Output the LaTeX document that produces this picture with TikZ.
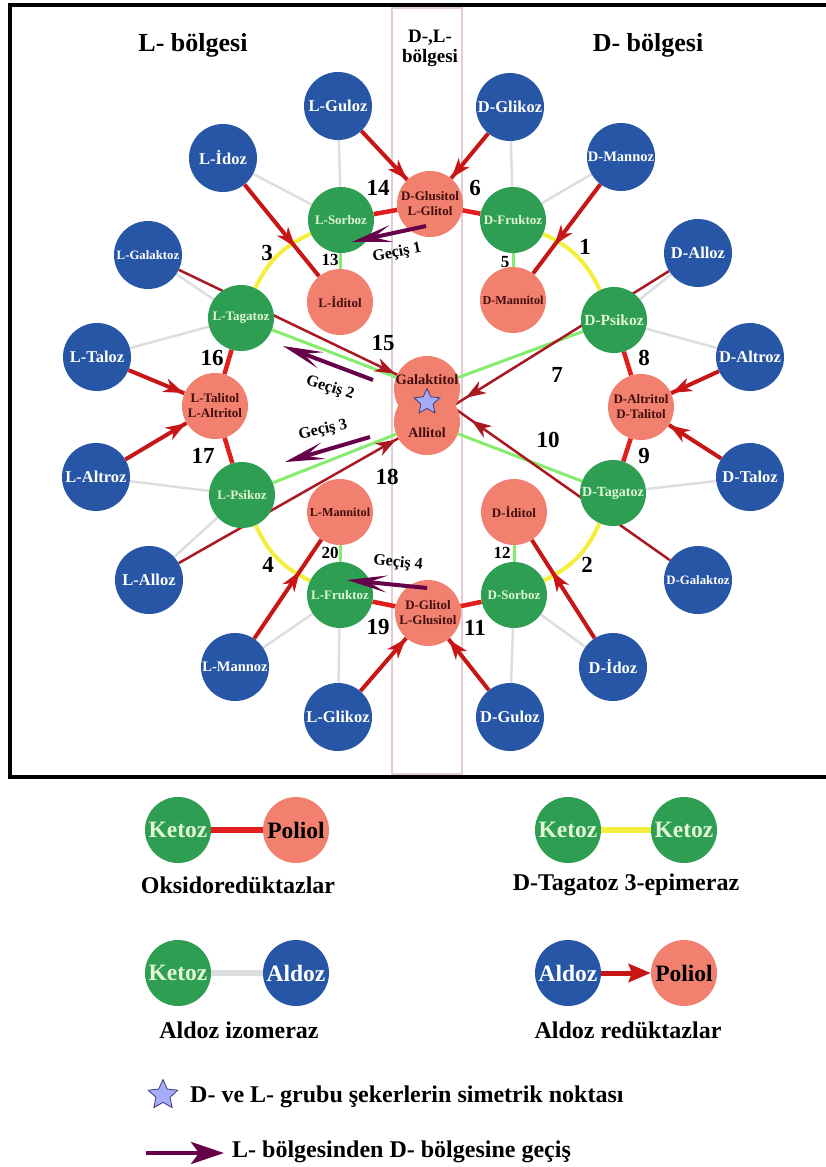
\documentclass[tikz,border=0pt]{standalone}
\usepackage{fontspec}
\setmainfont{Liberation Serif}
\usetikzlibrary{arrows.meta,shapes.geometric,decorations.markings,backgrounds}

\definecolor{aldozblue}{RGB}{40,86,166}
\definecolor{ketozgreen}{RGB}{46,158,82}
\definecolor{poliolpink}{RGB}{242,128,110}
\definecolor{ketoztext}{RGB}{224,246,212}
\definecolor{polioltext}{RGB}{66,14,14}
\definecolor{oksred}{RGB}{224,30,30}
\definecolor{redukred}{RGB}{200,22,22}
\definecolor{darkred}{RGB}{170,24,34}
\definecolor{izogray}{RGB}{222,222,222}
\definecolor{izolight}{RGB}{134,236,110}
\definecolor{epiyellow}{RGB}{245,238,60}
\definecolor{gecispurple}{RGB}{102,0,72}
\definecolor{starblue}{RGB}{165,172,250}
\definecolor{stardark}{RGB}{60,60,120}
\definecolor{regionpink}{RGB}{228,204,214}

\tikzset{
  aldoz/.style={circle, fill=aldozblue, minimum size=68pt, inner sep=0pt, text=white,
    font=\bfseries\fontsize{16.5}{18}\selectfont},
  ketoz/.style={circle, fill=ketozgreen, minimum size=66pt, inner sep=0pt, text=ketoztext,
    font=\bfseries\fontsize{13}{15}\selectfont},
  poliol/.style={circle, fill=poliolpink, minimum size=66pt, inner sep=0pt, text=polioltext,
    align=center, font=\bfseries\fontsize{13}{15}\selectfont},
  polyazi/.style={text=polioltext, inner sep=0pt, font=\bfseries\fontsize{14}{16}\selectfont},
  yildiz/.style={star, star points=5, star point ratio=2.1, fill=starblue, draw=stardark,
    line width=0.8pt, minimum size=27pt, inner sep=0pt},
  num/.style={inner sep=0pt, font=\bfseries\fontsize{23}{25}\selectfont},
  kucuknum/.style={inner sep=0pt, font=\bfseries\fontsize{17}{19}\selectfont},
  baslik/.style={inner sep=0pt, font=\bfseries\fontsize{26}{28}\selectfont},
  lejant/.style={inner sep=0pt, font=\bfseries\fontsize{24}{26}\selectfont},
  lejdaire/.style={font=\bfseries\fontsize{23.5}{25}\selectfont},
  gecisyazi/.style={inner sep=0pt, font=\bfseries\fontsize{16}{18}\selectfont},
  oksi/.style={draw=oksred, line width=4.5pt},
  izo/.style={draw=izogray, line width=2.5pt},
  yesil/.style={draw=izolight, line width=3pt},
  epim/.style={draw=epiyellow, line width=4pt},
  reduk/.style={draw, color=redukred, line width=4pt, postaction={decorate},
    decoration={markings, mark=at position #1 with {\arrow{Stealth[length=20pt,width=14pt,inset=6pt]}}}},
  reduk/.default=0.99,
  redukince/.style={reduk=#1, color=darkred, line width=2.5pt},
  redukince/.default=0.99,
  gecis/.style={draw=gecispurple, line width=4pt, -{Stealth[length=40pt,width=17pt,inset=18pt]}},
}

\begin{document}
\begin{tikzpicture}[x=1pt, y=-1pt]
\useasboundingbox (0,0) rectangle (825,1167);

% basliklar
\node[baslik] (lbolge) at (193,45) {L- bölgesi};
\node[baslik] (dbolge) at (648,45) {D- bölgesi};
\node[inner sep=0pt, align=center, font=\bfseries\fontsize{19}{20}\selectfont] (dlbolge) at (430,48) {D-,L-\\bölgesi};

% aldozlar
\node[aldoz] (lguloz) at (338,106) {L-Guloz};
\node[aldoz] (lidoz) at (223,158) {L-İdoz};
\node[aldoz, font=\bfseries\fontsize{12.8}{14}\selectfont] (lgalaktoz) at (148,255) {L-Galaktoz};
\node[aldoz] (ltaloz) at (97,357) {L-Taloz};
\node[aldoz] (laltroz) at (96,477) {L-Altroz};
\node[aldoz] (lalloz) at (149,580) {L-Alloz};
\node[aldoz, font=\bfseries\fontsize{14.5}{16}\selectfont] (lmannoz) at (235,667) {L-Mannoz};
\node[aldoz] (lglikoz) at (338,717) {L-Glikoz};
\node[aldoz] (dglikoz) at (510,107) {D-Glikoz};
\node[aldoz, font=\bfseries\fontsize{14.5}{16}\selectfont] (dmannoz) at (621,157) {D-Mannoz};
\node[aldoz] (dalloz) at (698,253) {D-Alloz};
\node[aldoz] (daltroz) at (750,357) {D-Altroz};
\node[aldoz] (dtaloz) at (750,477) {D-Taloz};
\node[aldoz, font=\bfseries\fontsize{12.8}{14}\selectfont] (dgalaktoz) at (698,580) {D-Galaktoz};
\node[aldoz] (didoz) at (613,667) {D-İdoz};
\node[aldoz] (dguloz) at (510,717) {D-Guloz};

% ketozlar
\node[ketoz] (lsorboz) at (341,220) {L-Sorboz};
\node[ketoz] (ltagatoz) at (241,318) {L-Tagatoz};
\node[ketoz] (lpsikoz) at (242,495) {L-Psikoz};
\node[ketoz] (lfruktoz) at (340,595) {L-Fruktoz};
\node[ketoz] (dfruktoz) at (513,220) {D-Fruktoz};
\node[ketoz, font=\bfseries\fontsize{15.5}{17}\selectfont] (dpsikoz) at (614,320) {D-Psikoz};
\node[ketoz, font=\bfseries\fontsize{14}{16}\selectfont] (dtagatoz) at (613,493) {D-Tagatoz};
\node[ketoz] (dsorboz) at (514,595) {D-Sorboz};

% polioller
\node[poliol] (dglusitol) at (430,204) {D-Glusitol\\L-Glitol};
\node[poliol] (liditol) at (340,302) {L-İditol};
\node[poliol, font=\bfseries\fontsize{12.2}{14}\selectfont] (dmannitol) at (513,300) {D-Mannitol};
\node[poliol] (ltalitol) at (215,406) {L-Talitol\\L-Altritol};
\node[poliol] (daltritol) at (641,407) {D-Altritol\\D-Talitol};
\node[poliol, font=\bfseries\fontsize{12.2}{14}\selectfont] (lmannitol) at (340,512) {L-Mannitol};
\node[poliol] (diditol) at (514,512) {D-İditol};
\node[poliol] (dglitol) at (428,613) {D-Glitol\\L-Glusitol};
\node[poliol] (galaktitol) at (427,389) {};
\node[poliol] (allitol) at (427,422) {};
\node[polyazi, font=\bfseries\fontsize{14.5}{16}\selectfont] (galaktitolyazi) at (427,380) {Galaktitol};
\node[polyazi] (allitolyazi) at (427,433) {Allitol};
\node[yildiz] (simetri) at (427,402) {};

\begin{scope}[on background layer]
\draw[regionpink, line width=1.5pt] (392,8) rectangle (462,774);
% aldoz izomeraz
\draw[izo] (lguloz) -- (lsorboz);
\draw[izo] (lidoz) -- (lsorboz);
\draw[izo] (lgalaktoz) -- (ltagatoz);
\draw[izo] (ltaloz) -- (ltagatoz);
\draw[izo] (laltroz) -- (lpsikoz);
\draw[izo] (lalloz) -- (lpsikoz);
\draw[izo] (lmannoz) -- (lfruktoz);
\draw[izo] (lglikoz) -- (lfruktoz);
\draw[izo] (dglikoz) -- (dfruktoz);
\draw[izo] (dmannoz) -- (dfruktoz);
\draw[izo] (dalloz) -- (dpsikoz);
\draw[izo] (daltroz) -- (dpsikoz);
\draw[izo] (dtaloz) -- (dtagatoz);
\draw[izo] (didoz) -- (dsorboz);
\draw[izo] (dguloz) -- (dsorboz);
% oksidoreduktazlar
\draw[oksi] (lsorboz) -- (dglusitol);
\draw[oksi] (dfruktoz) -- (dglusitol);
\draw[oksi] (ltagatoz) -- (ltalitol);
\draw[oksi] (lpsikoz) -- (ltalitol);
\draw[oksi] (dpsikoz) -- (daltritol);
\draw[oksi] (dtagatoz) -- (daltritol);
\draw[oksi] (lfruktoz) -- (dglitol);
\draw[oksi] (dsorboz) -- (dglitol);
\draw[yesil] (lsorboz) -- (liditol);
\draw[yesil] (dfruktoz) -- (dmannitol);
\draw[yesil] (lmannitol) -- (lfruktoz);
\draw[yesil] (diditol) -- (dsorboz);
\draw[yesil] (ltagatoz) -- (galaktitol);
\draw[yesil] (dpsikoz) -- (galaktitol);
\draw[yesil] (lpsikoz) -- (allitol);
\draw[yesil] (dtagatoz) -- (allitol);
% D-tagatoz 3-epimeraz
\draw[epim] (lsorboz) to[bend right=20] (ltagatoz);
\draw[epim] (dfruktoz) to[bend left=20] (dpsikoz);
\draw[epim] (lpsikoz) to[bend right=20] (lfruktoz);
\draw[epim] (dtagatoz) to[bend left=20] (dsorboz);
% aldoz reduktazlar
\draw[reduk] (lguloz) -- (dglusitol);
\draw[reduk] (dglikoz) -- (dglusitol);
\draw[reduk=0.68] (lidoz) -- (liditol);
\draw[reduk=0.68] (dmannoz) -- (dmannitol);
\draw[reduk] (ltaloz) -- (ltalitol);
\draw[reduk] (laltroz) -- (ltalitol);
\draw[reduk] (daltroz) -- (daltritol);
\draw[reduk] (dtaloz) -- (daltritol);
\draw[reduk=0.68] (lmannoz) -- (lmannitol);
\draw[reduk] (lglikoz) -- (dglitol);
\draw[reduk] (dguloz) -- (dglitol);
\draw[reduk=0.68] (didoz) -- (diditol);
\draw[redukince] (lgalaktoz) -- (galaktitol);
\draw[redukince=0.95] (dalloz) -- (allitol);
\draw[redukince=0.92] (dgalaktoz) -- (galaktitol);
\draw[redukince] (lalloz) -- (allitol);
\end{scope}

% enzim numaralari
\node[num] (no14) at (378,188) {14};
\node[num] (no6) at (475,188) {6};
\node[kucuknum] (no13) at (330,260) {13};
\node[kucuknum] (no5) at (505,262) {5};
\node[num] (no3) at (267,253) {3};
\node[num] (no1) at (585,247) {1};
\node[num] (no15) at (383,343) {15};
\node[num] (no16) at (212,358) {16};
\node[num] (no8) at (644,358) {8};
\node[num] (no7) at (557,375) {7};
\node[num] (no17) at (203,456) {17};
\node[num] (no18) at (387,477) {18};
\node[num] (no9) at (644,456) {9};
\node[num] (no10) at (548,440) {10};
\node[kucuknum] (no20) at (330,553) {20};
\node[num] (no4) at (268,565) {4};
\node[kucuknum] (no12) at (502,553) {12};
\node[num] (no2) at (587,565) {2};
\node[num] (no19) at (378,627) {19};
\node[num] (no11) at (475,628) {11};

% gecisler
\coordinate (g1bas) at (426,226);
\coordinate (g1uc) at (352,242);
\coordinate (g2bas) at (373,380);
\coordinate (g2uc) at (283,346);
\coordinate (g3bas) at (370,437);
\coordinate (g3uc) at (285,462);
\coordinate (g4bas) at (427,588);
\coordinate (g4uc) at (347,580);
\draw[gecis] (g1bas) -- (g1uc);
\draw[gecis] (g2bas) -- (g2uc);
\draw[gecis] (g3bas) -- (g3uc);
\draw[gecis] (g4bas) -- (g4uc);
\node[gecisyazi, rotate=11] (gecis1) at (397,253) {Geçiş 1};
\node[gecisyazi, rotate=-17] (gecis2) at (330,388) {Geçiş 2};
\node[gecisyazi, rotate=13] (gecis3) at (323,430) {Geçiş 3};
\node[gecisyazi, rotate=-5] (gecis4) at (398,563) {Geçiş 4};

% cerceve
\draw[line width=3.5pt] (826,5) -- (10,5) -- (10,777) -- (826,777);

% lejant
\node[ketoz, lejdaire] (lejketoz1) at (178,830) {Ketoz};
\node[poliol, lejdaire, text=black] (lejpoliol1) at (296,830) {Poliol};
\draw[oksi, line width=6pt] (lejketoz1) -- (lejpoliol1);
\node[lejant] (oksiyazi) at (238,885) {Oksidoredüktazlar};
\node[ketoz, lejdaire] (lejketoz2) at (568,830) {Ketoz};
\node[ketoz, lejdaire] (lejketoz3) at (684,830) {Ketoz};
\draw[epim, line width=6pt] (lejketoz2) -- (lejketoz3);
\node[lejant] (epimyazi) at (626,885) {D-Tagatoz 3-epimeraz};
\node[ketoz, lejdaire] (lejketoz4) at (178,973) {Ketoz};
\node[aldoz, lejdaire, minimum size=66pt] (lejaldoz1) at (296,973) {Aldoz};
\draw[izo, line width=6pt] (lejketoz4) -- (lejaldoz1);
\node[lejant] (izoyazi) at (239,1030) {Aldoz izomeraz};
\node[aldoz, lejdaire, minimum size=66pt] (lejaldoz2) at (568,973) {Aldoz};
\node[poliol, lejdaire, text=black] (lejpoliol2) at (684,973) {Poliol};
\draw[redukred, line width=5pt, -{Stealth[length=22pt,width=18pt,inset=3pt]}] (lejaldoz2) -- (lejpoliol2);
\node[lejant] (redukyazi) at (628,1030) {Aldoz redüktazlar};
\node[yildiz, minimum size=31pt] (lejyildiz) at (163,1095) {};
\node[lejant, anchor=west] (simetriyazi) at (190,1097) {D- ve L- grubu şekerlerin simetrik noktası};
\coordinate (lejokbas) at (146,1153);
\coordinate (lejokuc) at (224,1153);
\draw[draw=gecispurple, line width=4.5pt, -{Stealth[length=33pt,width=22pt,inset=8pt]}] (lejokbas) -- (lejokuc);
\node[lejant, anchor=west] (gecisyazi) at (232,1152) {L- bölgesinden D- bölgesine geçiş};
\end{tikzpicture}
\end{document}
